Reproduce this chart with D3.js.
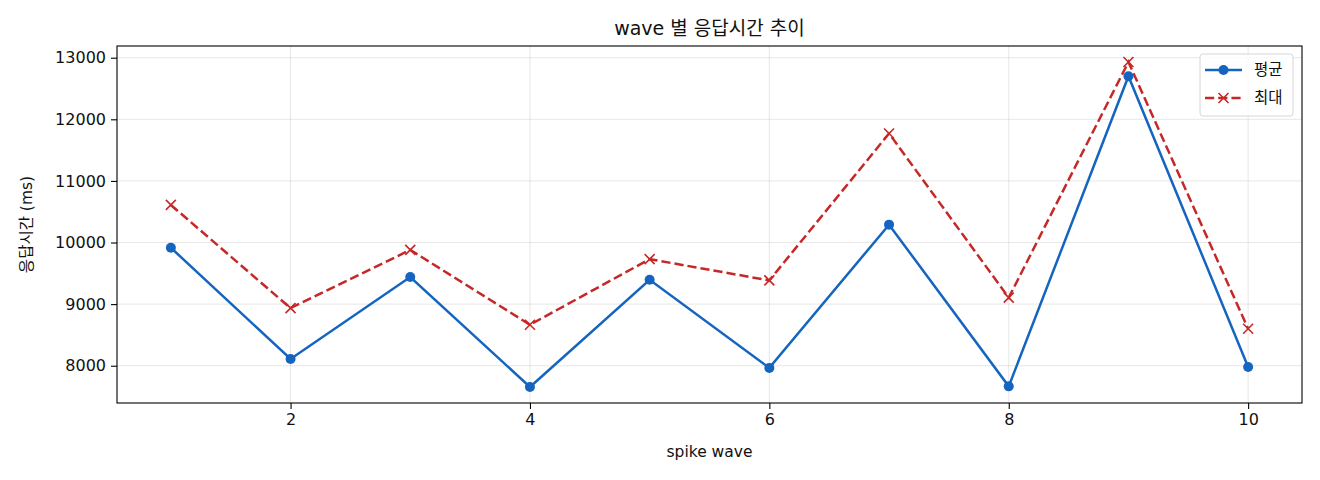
<!DOCTYPE html>
<html>
<head>
<meta charset="utf-8">
<script src="https://cdn.jsdelivr.net/npm/d3@7"></script>
<style>
  body { margin: 0; background: #fff; }
  text { font-family: "DejaVu Sans", "Noto Sans CJK KR", sans-serif; fill: #111; }
</style>
</head>
<body>
<div class="canvas"></div>
<script>
// data
const waves = [1, 2, 3, 4, 5, 6, 7, 8, 9, 10];
const avgMs = [9915, 8110, 9440, 7655, 9395, 7965, 10290, 7665, 12700, 7980];
const maxMs = [10610, 8935, 9880, 8665, 9730, 9385, 11770, 9105, 12930, 8600];
const xTicks = [2, 4, 6, 8, 10];
const yTicks = [8000, 9000, 10000, 11000, 12000, 13000];
const seriesNames = ['평균', '최대'];

const dims = { width: 1320, height: 480 };
const margin = { top: 46, right: 18, bottom: 77, left: 117 };
const inner = {
    w: dims.width - margin.left - margin.right,
    h: dims.height - margin.top - margin.bottom
};

const blue = '#1565c0';
const red = '#c62828';

const svg = d3.select('.canvas').append('svg')
    .attr('width', dims.width)
    .attr('height', dims.height);

const g = svg.append('g')
    .attr('transform', `translate(${margin.left},${margin.top})`);

const x = d3.scaleLinear().domain([0.55, 10.45]).range([0, inner.w]);
const y = d3.scaleLinear().domain([7395, 13190]).range([inner.h, 0]);

// grid
g.append('g').selectAll('line.gx')
    .data(xTicks).enter().append('line')
    .attr('x1', d => x(d)).attr('x2', d => x(d))
    .attr('y1', 0).attr('y2', inner.h)
    .attr('stroke', '#b0b0b0').attr('stroke-opacity', 0.3).attr('stroke-width', 1);
g.append('g').selectAll('line.gy')
    .data(yTicks).enter().append('line')
    .attr('y1', d => y(d)).attr('y2', d => y(d))
    .attr('x1', 0).attr('x2', inner.w)
    .attr('stroke', '#b0b0b0').attr('stroke-opacity', 0.3).attr('stroke-width', 1);

// axes
const xAxis = g.append('g')
    .attr('transform', `translate(0,${inner.h})`)
    .call(d3.axisBottom(x).tickValues(xTicks).tickSize(6).tickPadding(5).tickFormat(d3.format('d')));
const yAxis = g.append('g')
    .call(d3.axisLeft(y).tickValues(yTicks).tickSize(6).tickPadding(5).tickFormat(d3.format('d')));
[xAxis, yAxis].forEach(a => {
    a.select('.domain').remove();
    a.selectAll('line').attr('stroke', '#000').attr('stroke-width', 1.1);
    a.selectAll('text').attr('font-size', 16).attr('fill', '#111')
        .style('font-family', '"DejaVu Sans", sans-serif');
});

// frame
g.append('rect')
    .attr('width', inner.w).attr('height', inner.h)
    .attr('fill', 'none').attr('stroke', '#000').attr('stroke-width', 1.1);

// lines
const lineGen = d3.line()
    .x((d, i) => x(waves[i]))
    .y(d => y(d));

g.append('path')
    .datum(maxMs)
    .attr('d', lineGen)
    .attr('fill', 'none')
    .attr('stroke', red)
    .attr('stroke-width', 2.5)
    .attr('stroke-dasharray', '9.2,4');

g.append('path')
    .datum(avgMs)
    .attr('d', lineGen)
    .attr('fill', 'none')
    .attr('stroke', blue)
    .attr('stroke-width', 2.5);

// markers
g.append('g').selectAll('circle')
    .data(avgMs).enter().append('circle')
    .attr('cx', (d, i) => x(waves[i]))
    .attr('cy', d => y(d))
    .attr('r', 5)
    .attr('fill', blue);

const cross = 5;
const crossPath = (cx, cy) =>
    `M${cx - cross},${cy - cross}L${cx + cross},${cy + cross}M${cx - cross},${cy + cross}L${cx + cross},${cy - cross}`;

g.append('g').selectAll('path')
    .data(maxMs).enter().append('path')
    .attr('d', (d, i) => crossPath(x(waves[i]), y(d)))
    .attr('stroke', red)
    .attr('stroke-width', 1.6)
    .attr('fill', 'none');

// title and labels
svg.append('text')
    .attr('x', margin.left + inner.w / 2)
    .attr('y', 35)
    .attr('text-anchor', 'middle')
    .attr('font-size', 19)
    .text('wave 별 응답시간 추이');

svg.append('text')
    .attr('x', margin.left + inner.w / 2)
    .attr('y', 457)
    .attr('text-anchor', 'middle')
    .attr('font-size', 15.5)
    .text('spike wave');

svg.append('text')
    .attr('transform', `translate(32,${margin.top + inner.h / 2}) rotate(-90)`)
    .attr('text-anchor', 'middle')
    .attr('font-size', 15.5)
    .text('응답시간 (ms)');

// legend
const legend = svg.append('g').attr('transform', 'translate(1200,54)');
legend.append('rect')
    .attr('width', 93).attr('height', 62)
    .attr('rx', 3)
    .attr('fill', '#fff').attr('fill-opacity', 0.8)
    .attr('stroke', '#d6d6d6').attr('stroke-width', 1);

const rows = legend.selectAll('g.row')
    .data(seriesNames).enter().append('g')
    .attr('transform', (d, i) => `translate(0,${16 + i * 28})`);

rows.append('line')
    .attr('x1', 5).attr('x2', 42)
    .attr('stroke', (d, i) => i === 0 ? blue : red)
    .attr('stroke-width', 2.5)
    .attr('stroke-dasharray', (d, i) => i === 0 ? null : '9.2,4');

rows.filter((d, i) => i === 0).append('circle')
    .attr('cx', 23.5).attr('r', 5).attr('fill', blue);
rows.filter((d, i) => i === 1).append('path')
    .attr('d', crossPath(23.5, 0))
    .attr('stroke', red).attr('stroke-width', 1.6);

rows.append('text')
    .attr('x', 54)
    .attr('dy', '0.35em')
    .attr('font-size', 15.5)
    .text(d => d);
</script>
</body>
</html>
